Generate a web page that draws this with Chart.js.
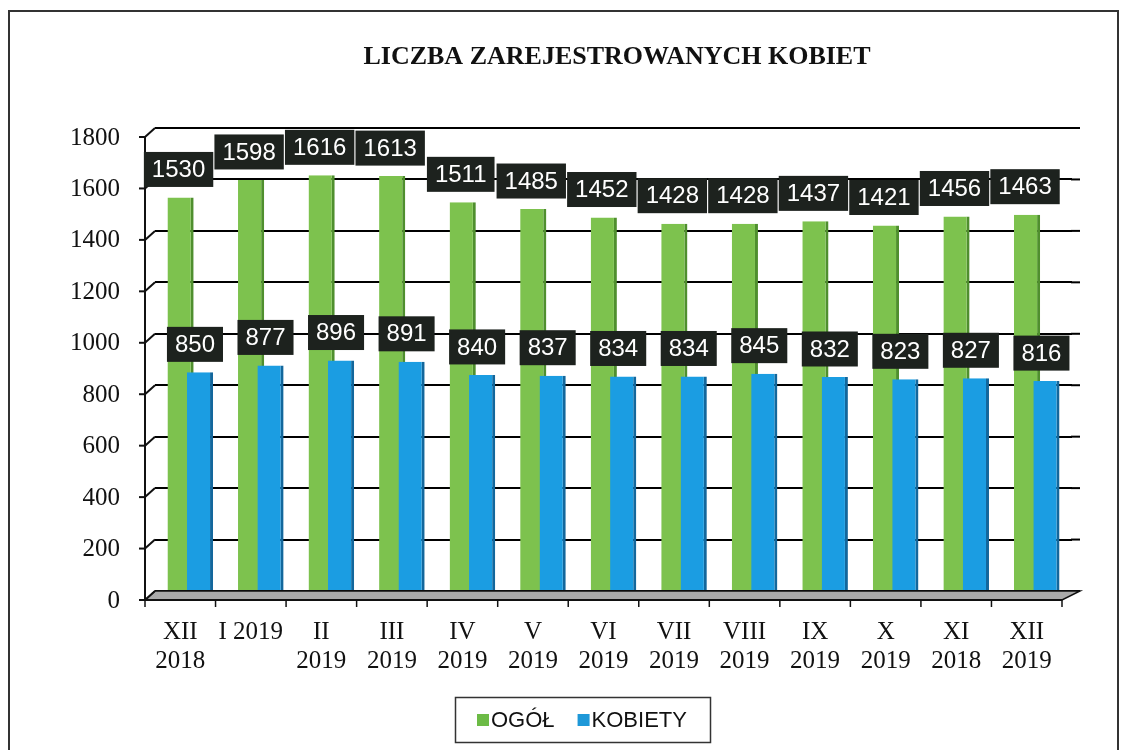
<!DOCTYPE html>
<html>
<head>
<meta charset="utf-8">
<script src="https://cdn.jsdelivr.net/npm/chart.js@4.4.1/dist/chart.umd.min.js"></script>
<style>
html,body{margin:0;padding:0;background:#fff;}
#wrap{width:1129px;height:750px;position:relative;}
</style>
</head>
<body>
<div id="wrap"><canvas id="c" width="1129" height="750"></canvas></div>
<script>
const titleText = "LICZBA ZAREJESTROWANYCH KOBIET";
const categories = [["XII","2018"],["I 2019"],["II","2019"],["III","2019"],["IV","2019"],["V","2019"],["VI","2019"],["VII","2019"],["VIII","2019"],["IX","2019"],["X","2019"],["XI","2018"],["XII","2019"]];
const ogol = [1530,1598,1616,1613,1511,1485,1452,1428,1428,1437,1421,1456,1463];
const kobiety = [850,877,896,891,840,837,834,834,845,832,823,827,816];
const seriesNames = ["OGÓŁ","KOBIETY"];
const yMin = 0, yMax = 1800, yStep = 200;

const DX = 10, DY = 9; // 3D depth offset (front = back - DX, + DY)

function drawLabels(chart) {
  const ctx = chart.ctx;
  ctx.save();
  ctx.font = '24px "Liberation Sans", Arial, sans-serif';
  ctx.textAlign = 'center';
  ctx.textBaseline = 'middle';
  chart.data.datasets.forEach((ds, di) => {
    const meta = chart.getDatasetMeta(di);
    meta.data.forEach((el, i) => {
      const txt = String(ds.data[i]);
      const w = ctx.measureText(txt).width + 16;
      const h = 35;
      const cx = el.x + (di === 0 ? -2 : -5);
      const cy = el.y - 28;
      ctx.fillStyle = '#1d221e';
      ctx.fillRect(cx - w / 2, cy - h / 2, w, h);
      ctx.fillStyle = '#fff';
      ctx.fillText(txt, cx, cy + 1);
    });
  });
  ctx.restore();
}

const decor = {
  id: 'decor',
  beforeDraw(chart) {
    const ctx = chart.ctx;
    ctx.save();
    ctx.fillStyle = '#fff';
    ctx.fillRect(0, 0, chart.width, chart.height);
    ctx.strokeStyle = '#333';
    ctx.lineWidth = 2;
    ctx.strokeRect(9, 11, 1109, 800);
    ctx.restore();
  },
  beforeDatasetsDraw(chart) {
    const ctx = chart.ctx, a = chart.chartArea, ys = chart.scales.y;
    const backRight = 1080;
    ctx.save();
    ctx.strokeStyle = '#000';
    ctx.lineWidth = 2;
    ys.ticks.forEach((t) => {
      const y = ys.getPixelForValue(t.value);
      ctx.beginPath(); ctx.moveTo(a.right - 1, y); ctx.lineTo(backRight, y); ctx.stroke();
    });
    const fl = a.left - DX;
    const cw = (a.right - a.left) / categories.length;
    const fr = a.right - DX;
    ctx.beginPath();
    ctx.moveTo(fl, a.bottom + DY);
    ctx.lineTo(a.left, a.bottom);
    ctx.lineTo(backRight, a.bottom);
    ctx.lineTo(fr, a.bottom + DY);
    ctx.closePath();
    ctx.fillStyle = '#a9a9a9';
    ctx.fill();
    ctx.lineWidth = 1.5;
    ctx.strokeStyle = '#111';
    ctx.stroke();
    ctx.lineWidth = 2;
    ctx.beginPath();
    ctx.moveTo(fl, ys.getPixelForValue(yMax) + DY);
    ctx.lineTo(fl, a.bottom + DY);
    ctx.stroke();
    ys.ticks.forEach((t) => {
      const y = ys.getPixelForValue(t.value);
      ctx.beginPath(); ctx.moveTo(fl, y + DY); ctx.lineTo(a.left, y); ctx.stroke();
      ctx.beginPath(); ctx.moveTo(fl - 6, y + DY); ctx.lineTo(fl, y + DY); ctx.stroke();
    });
    ctx.beginPath(); ctx.moveTo(fl, a.bottom + DY); ctx.lineTo(fr, a.bottom + DY); ctx.stroke();
    ctx.lineWidth = 1.5;
    for (let i = 0; i <= categories.length; i++) {
      const x = fl + i * cw;
      ctx.beginPath(); ctx.moveTo(x, a.bottom + DY); ctx.lineTo(x, a.bottom + DY + 7); ctx.stroke();
    }
    ctx.restore();
    // draw bars: green first, blue in front
    chart.data.datasets.forEach((ds, di) => {
      const meta = chart.getDatasetMeta(di);
      if (meta.visible !== false) meta.controller.draw();
    });
    drawLabels(chart);
    return false;
  },
  afterDraw(chart) {
    const ctx = chart.ctx;
    ctx.save();
    ctx.fillStyle = '#111';
    ctx.font = 'bold 26px "Liberation Serif", "Times New Roman", serif';
    ctx.textAlign = 'center';
    ctx.textBaseline = 'middle';
    ctx.fillText(titleText, 617, 57);
    ctx.strokeStyle = '#333';
    ctx.lineWidth = 1.5;
    ctx.strokeRect(455.5, 697.5, 255, 45);
    ctx.font = '22px "Liberation Sans", Arial, sans-serif';
    ctx.textAlign = 'left';
    let x = 477;
    chart.data.datasets.forEach((ds) => {
      ctx.fillStyle = ds.legendColor;
      ctx.fillRect(x, 714, 12, 12);
      ctx.fillStyle = '#111';
      ctx.fillText(ds.label, x + 14, 721);
      x += 14 + ctx.measureText(ds.label).width + 23;
    });
    ctx.restore();
  }
};

new Chart(document.getElementById('c'), {
  type: 'bar',
  data: {
    labels: categories,
    datasets: [
      {
        label: seriesNames[0],
        data: ogol,
        backgroundColor: '#7dc24e',
        borderColor: '#4f8f2e',
        borderWidth: {left: 0, right: 3, top: 0, bottom: 0},
        borderSkipped: false,
        legendColor: '#6cbb46'
      },
      {
        label: seriesNames[1],
        data: kobiety,
        backgroundColor: '#1b9de2',
        borderColor: '#13679c',
        borderWidth: {left: 0, right: 3, top: 0, bottom: 0},
        borderSkipped: false,
        legendColor: '#1e98d8'
      }
    ]
  },
  options: {
    responsive: false,
    animation: false,
    devicePixelRatio: 1,
    categoryPercentage: 0.55,
    barPercentage: 1.35,
    layout: { padding: { top: 128, left: 0, right: 57, bottom: 0 } },
    plugins: {
      legend: { display: false },
      title: { display: false },
      tooltip: { enabled: false }
    },
    scales: {
      x: {
        grid: { display: false, drawTicks: false },
        border: { display: false },
        ticks: {
          color: '#111',
          font: { family: '"Liberation Serif", "Times New Roman", serif', size: 25, lineHeight: 1.15 },
          padding: 27,
          labelOffset: -DX,
          maxRotation: 0,
          autoSkip: false
        },
        afterFit(s) { s.height = 750 - 591; s.paddingLeft = 0; s.paddingRight = 0; }
      },
      y: {
        min: yMin, max: yMax,
        grid: { color: '#000', lineWidth: 2, drawTicks: false },
        border: { display: false },
        ticks: {
          stepSize: yStep,
          color: '#111',
          font: { family: '"Liberation Serif", "Times New Roman", serif', size: 25 },
          padding: 35,
          labelOffset: DY + 1,
          callback: (v) => String(v)
        },
        afterFit(s) { s.width = 155; s.paddingTop = 0; s.paddingBottom = 0; }
      }
    }
  },
  plugins: [decor]
});
</script>
</body>
</html>
